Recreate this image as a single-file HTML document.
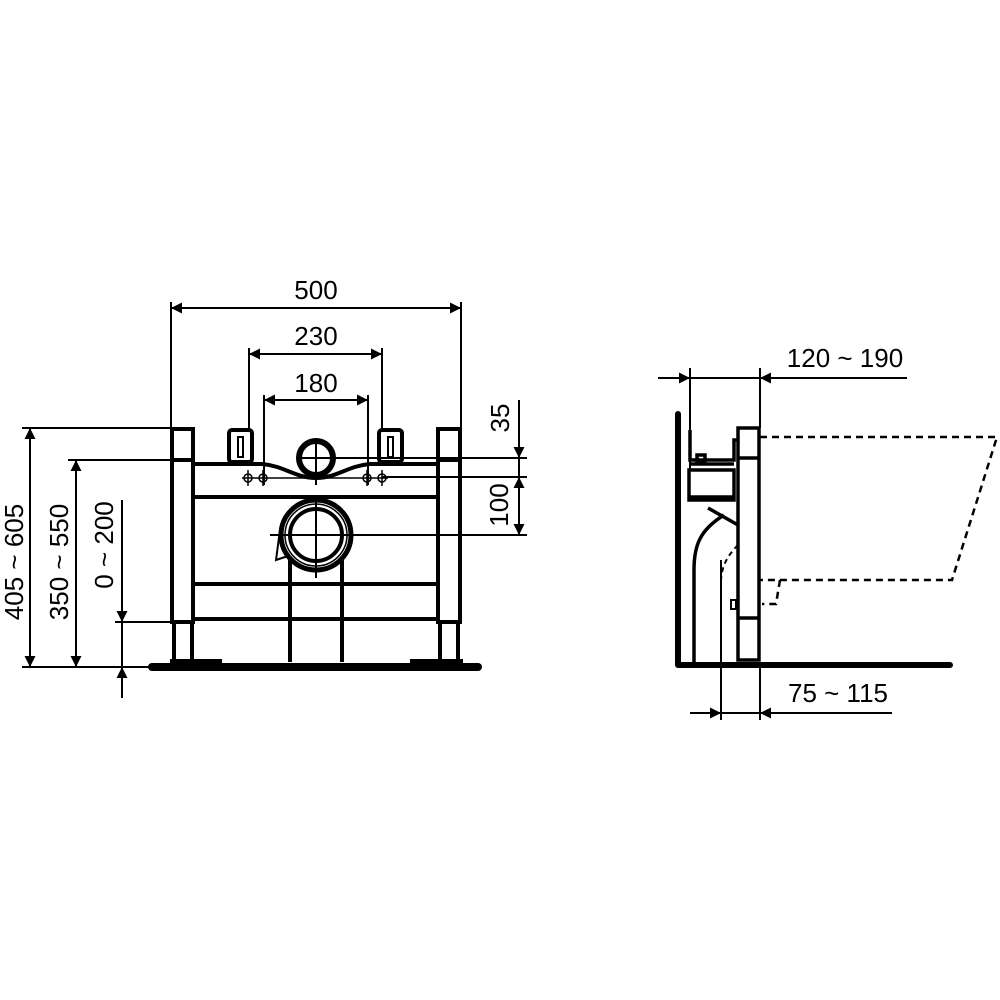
<!DOCTYPE html>
<html><head><meta charset="utf-8"><style>
html,body{margin:0;padding:0;background:#fff;}
svg{display:block;}
text{font-family:"Liberation Sans",Arial,sans-serif;font-size:26px;fill:#000;}
</style></head><body>
<svg width="1000" height="1000" viewBox="0 0 1000 1000" xmlns="http://www.w3.org/2000/svg">
<defs>
<marker id="a" viewBox="0 0 10 10" refX="10" refY="5" markerWidth="17" markerHeight="11" markerUnits="userSpaceOnUse" orient="auto-start-reverse"><path d="M0,0L10,5L0,10z" fill="#000"/></marker>
</defs>
<g stroke="#000" fill="none">
<g stroke-width="2">
<line x1="171" y1="302" x2="171" y2="428"/><line x1="461" y1="302" x2="461" y2="436"/>
<line x1="171" y1="308" x2="461" y2="308" marker-start="url(#a)" marker-end="url(#a)"/>
<line x1="249" y1="348" x2="249" y2="430"/><line x1="382" y1="348" x2="382" y2="430"/>
<line x1="249" y1="354" x2="382" y2="354" marker-start="url(#a)" marker-end="url(#a)"/>
<line x1="264" y1="395" x2="264" y2="485"/><line x1="368" y1="395" x2="368" y2="485"/>
<line x1="264" y1="400" x2="368" y2="400" marker-start="url(#a)" marker-end="url(#a)"/>
<line x1="300" y1="458" x2="527" y2="458"/>
<line x1="382" y1="477" x2="527" y2="477"/>
<line x1="316" y1="535" x2="527" y2="535"/>
<line x1="519" y1="400" x2="519" y2="458" marker-end="url(#a)"/>
<line x1="519" y1="458" x2="519" y2="477"/>
<line x1="519" y1="535" x2="519" y2="477" marker-end="url(#a)"/>
<line x1="519" y1="477" x2="519" y2="535" marker-end="url(#a)"/>
<line x1="22" y1="428" x2="171" y2="428"/>
<line x1="68" y1="460" x2="195" y2="460"/>
<line x1="115" y1="622" x2="171" y2="622"/>
<line x1="22" y1="667" x2="152" y2="667"/>
<line x1="30" y1="428" x2="30" y2="667" marker-start="url(#a)" marker-end="url(#a)"/>
<line x1="76" y1="460" x2="76" y2="667" marker-start="url(#a)" marker-end="url(#a)"/>
<line x1="122" y1="500" x2="122" y2="622" marker-end="url(#a)"/>
<line x1="122" y1="622" x2="122" y2="667"/>
<line x1="122" y1="698" x2="122" y2="667" marker-end="url(#a)"/>
<line x1="690" y1="368" x2="690" y2="470"/><line x1="760" y1="368" x2="760" y2="428"/>
<line x1="658" y1="378" x2="690" y2="378" marker-end="url(#a)"/>
<line x1="690" y1="378" x2="760" y2="378"/>
<line x1="907" y1="378" x2="760" y2="378" marker-end="url(#a)"/>
<line x1="721" y1="560" x2="721" y2="720"/><line x1="760" y1="665" x2="760" y2="720"/>
<line x1="690" y1="713" x2="721" y2="713" marker-end="url(#a)"/>
<line x1="721" y1="713" x2="760" y2="713"/>
<line x1="892" y1="713" x2="760" y2="713" marker-end="url(#a)"/>
<line x1="316" y1="438" x2="316" y2="485"/>
<line x1="316" y1="500" x2="316" y2="578"/>
<line x1="270" y1="535" x2="330" y2="535"/>
</g>
<g stroke-width="4">
<rect x="172" y="429" width="21" height="193"/>
<line x1="172" y1="460" x2="193" y2="460"/>
<rect x="438" y="429" width="22" height="193"/>
<line x1="438" y1="460" x2="460" y2="460"/>
<line x1="174" y1="622" x2="174" y2="662"/><line x1="192" y1="622" x2="192" y2="662"/>
<line x1="440" y1="622" x2="440" y2="662"/><line x1="458" y1="622" x2="458" y2="662"/>
<path d="M193,464 L262,464 C285,466 295,478 316,478 C337,478 347,466 370,464 L438,464"/>
<line x1="193" y1="497" x2="438" y2="497"/>
<line x1="193" y1="584" x2="438" y2="584"/>
<line x1="193" y1="619" x2="438" y2="619"/>
<line x1="290" y1="560" x2="290" y2="662"/><line x1="342" y1="560" x2="342" y2="662"/>
<rect x="229" y="430" width="23" height="32" rx="3"/>
<rect x="379" y="430" width="23" height="32" rx="3"/>
</g>
<g stroke-width="2">
<rect x="238" y="437" width="5" height="20"/><rect x="388" y="437" width="5" height="20"/>
</g>
<path d="M152,667 L478,667" stroke-width="8" stroke-linecap="round"/>
<rect x="170" y="659" width="52" height="6" fill="#000" stroke="none"/>
<rect x="410" y="659" width="53" height="6" fill="#000" stroke="none"/>
<circle cx="316" cy="458" r="17" stroke-width="6"/>
<circle cx="316" cy="535" r="35" stroke-width="5"/>
<circle cx="316" cy="535" r="26" stroke-width="4"/>
<circle cx="316" cy="535" r="31" stroke-width="1.5"/>
<path d="M280,530 L276,560 L288,556" stroke-width="2"/>
<g stroke-width="1.5">
<circle cx="248" cy="478" r="4"/><circle cx="263" cy="478" r="4"/>
<circle cx="367" cy="478" r="4"/><circle cx="382" cy="478" r="4"/>
<line x1="242" y1="478" x2="388" y2="478"/>
<line x1="248" y1="470" x2="248" y2="486"/><line x1="263" y1="470" x2="263" y2="486"/>
<line x1="367" y1="470" x2="367" y2="486"/><line x1="382" y1="470" x2="382" y2="486"/>
</g>
<path d="M678,414 L678,665 L950,665" stroke-width="6" stroke-linecap="round" stroke-linejoin="round"/>
<g stroke-width="3.5">
<rect x="738" y="428" width="21" height="232"/>
<line x1="738" y1="458" x2="759" y2="458"/>
<line x1="738" y1="618" x2="759" y2="618"/>
<rect x="689" y="470" width="45" height="30"/>
<line x1="689" y1="464" x2="734" y2="464"/>
<line x1="689" y1="497" x2="734" y2="497"/>
<path d="M690,430 L690,460 L734,460 L734,440 L738,440"/>
<path d="M724,515 C700,530 694,545 694,570 L694,662"/>
<path d="M708,508 L738,525"/>
<rect x="697" y="455" width="8" height="7"/>
</g>
<path d="M738,545 C728,555 722,565 721,580 L721,660" stroke-width="2" stroke-dasharray="5,4"/>
<g stroke-width="2.5" stroke-dasharray="7,5">
<path d="M760,437 L997,437 L952,580 L760,580"/>
<path d="M780,580 L776,604 L762,604"/>
</g>
<rect x="731" y="600" width="5" height="9" stroke-width="2"/>
</g>
<text x="316" y="299" text-anchor="middle">500</text>
<text x="316" y="345" text-anchor="middle">230</text>
<text x="316" y="392" text-anchor="middle">180</text>
<text transform="translate(509,418) rotate(-90)" text-anchor="middle">35</text>
<text transform="translate(508,505) rotate(-90)" text-anchor="middle">100</text>
<text transform="translate(23,562) rotate(-90)" text-anchor="middle">405 ~ 605</text>
<text transform="translate(68,562) rotate(-90)" text-anchor="middle">350 ~ 550</text>
<text transform="translate(113,545) rotate(-90)" text-anchor="middle">0 ~ 200</text>
<text x="845" y="367" text-anchor="middle">120 ~ 190</text>
<text x="838" y="702" text-anchor="middle">75 ~ 115</text>
</svg>
</body></html>
